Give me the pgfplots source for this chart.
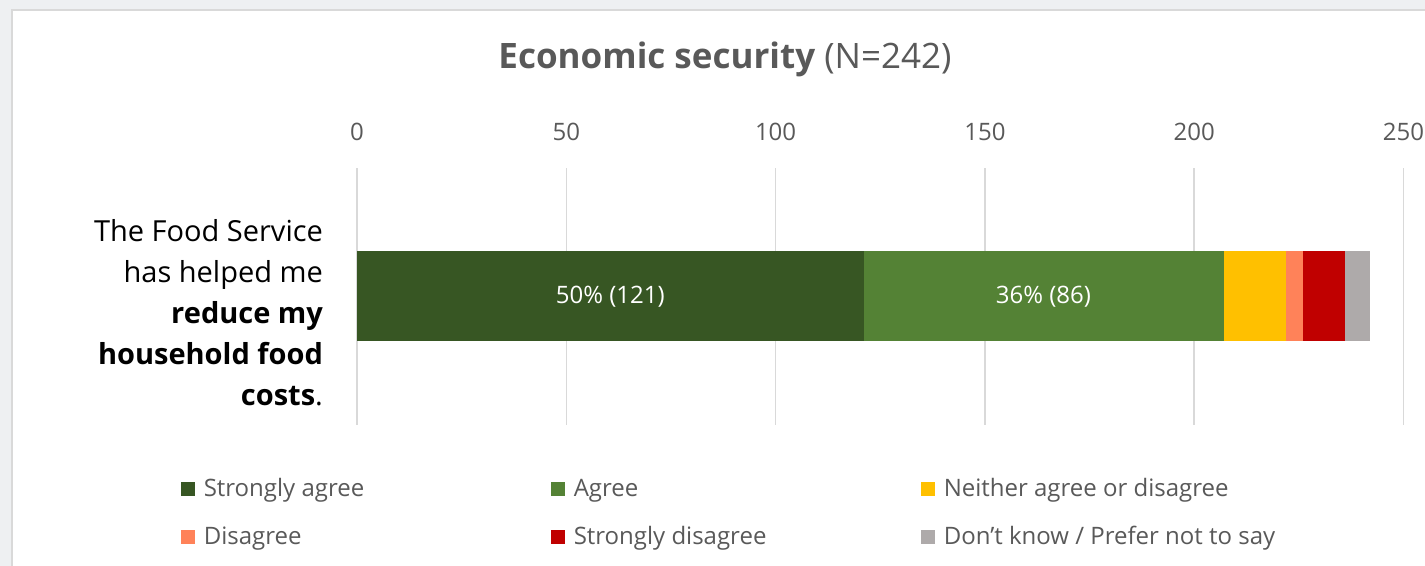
\documentclass[border=0pt]{standalone}
\usepackage{pgfplots}
\pgfplotsset{compat=1.18}
\usepackage{fontspec}
\setmainfont{Open Sans}
\definecolor{sagree}{HTML}{375623}
\definecolor{agree}{HTML}{548235}
\definecolor{neither}{HTML}{FFC000}
\definecolor{disag}{HTML}{FF8259}
\definecolor{sdisag}{HTML}{C00000}
\definecolor{dk}{HTML}{AEAAAA}
\definecolor{txt}{HTML}{595959}
\definecolor{gridc}{HTML}{D9D9D9}
\definecolor{bgc}{HTML}{EEF0F2}
\begin{document}
\begin{tikzpicture}
\useasboundingbox (0,0) rectangle (712.5pt,283pt);
\fill[bgc] (0,0) rectangle (712.5pt,283pt);
\fill[white] (6pt,0) rectangle (712.5pt,278pt);
\draw[gridc,line width=0.6pt] (6pt,0) -- (6pt,278pt) -- (712.5pt,278pt);
\node[text=txt,font=\fontsize{17.5}{21}\selectfont] at (362.5pt,253.5pt) {\textbf{Economic security} (N=242)};
\node[anchor=east,align=right,font=\fontsize{14.5}{20.5}\selectfont] at (165pt,126.5pt)
  {The Food Service\\has helped me\\\textbf{reduce my}\\\textbf{household food}\\\textbf{costs}.};
\begin{axis}[
  at={(178.5pt,70.5pt)}, anchor=south west,
  scale only axis, width=523.25pt, height=128.5pt,
  xbar stacked, bar width=45pt,
  xmin=0, xmax=250, ymin=-1, ymax=1,
  xtick={0,50,...,250}, ytick=\empty,
  xticklabel pos=upper,
  xmajorgrids, grid style={gridc,line width=0.75pt},
  axis line style={draw=none}, major tick style={draw=none},
  xticklabel style={text=txt,font=\fontsize{12}{14}\selectfont,anchor=south,yshift=10pt},
  /pgf/number format/assume math mode=true,
  legend columns=3,
  legend cell align=left,
  legend style={draw=none, fill=none, at={(-0.1745,-0.175)}, anchor=north west,
    font=\fontsize{12}{14}\selectfont, text=txt,
    /tikz/every even column/.append style={column sep=0pt},
    row sep=9.5pt},
  legend image code/.code={\fill[#1] (0pt,-3.5pt) rectangle (7pt,3.5pt);},
]
\addplot[fill=sagree,draw=none] coordinates {(121,0)};
\addplot[fill=agree,draw=none] coordinates {(86,0)};
\addplot[fill=neither,draw=none] coordinates {(15,0)};
\addplot[fill=disag,draw=none] coordinates {(4,0)};
\addplot[fill=sdisag,draw=none] coordinates {(10,0)};
\addplot[fill=dk,draw=none] coordinates {(6,0)};
\addlegendentry{\makebox[174pt][l]{\hspace{2.5pt}Strongly agree}}
\addlegendentry{\makebox[174pt][l]{\hspace{2.5pt}Agree}}
\addlegendentry{\makebox[174pt][l]{\hspace{2.5pt}Neither agree or disagree}}
\addlegendentry{\makebox[174pt][l]{\hspace{2.5pt}Disagree}}
\addlegendentry{\makebox[174pt][l]{\hspace{2.5pt}Strongly disagree}}
\addlegendentry{\makebox[174pt][l]{\hspace{2.5pt}Don't know / Prefer not to say}}
\coordinate (l1) at (axis cs:60.5,0);
\coordinate (l2) at (axis cs:164,0);
\end{axis}
\node[text=white,font=\fontsize{12}{14}\selectfont] at (l1) {50\% (121)};
\node[text=white,font=\fontsize{12}{14}\selectfont] at (l2) {36\% (86)};
\end{tikzpicture}
\end{document}
